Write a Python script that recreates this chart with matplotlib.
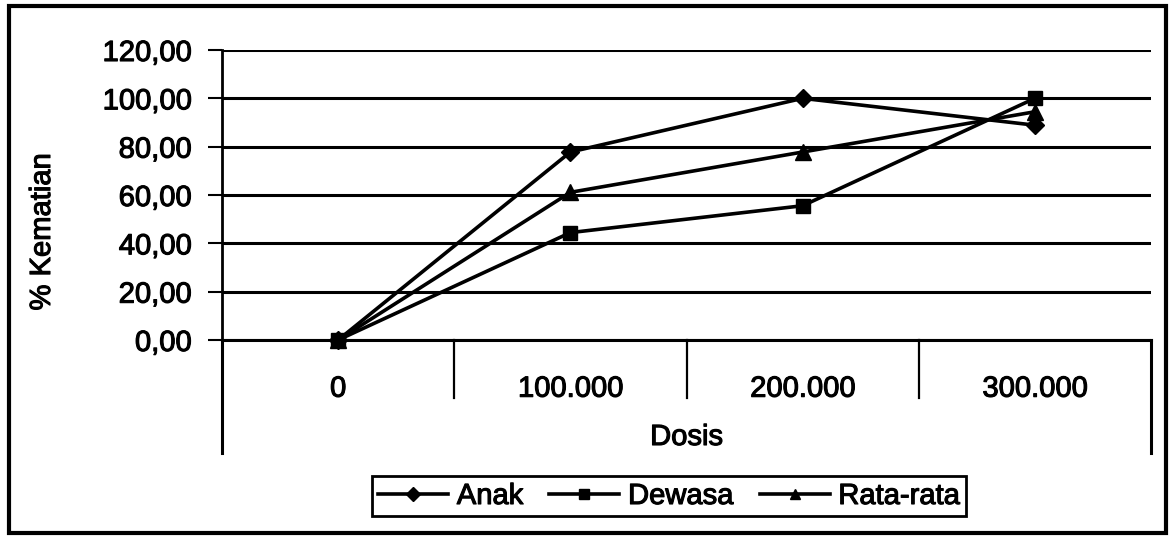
import numpy as np
import matplotlib.pyplot as plt
import matplotlib.patheffects as pe
from matplotlib.patches import Rectangle
from matplotlib.ticker import FuncFormatter

plt.rcParams['font.family'] = ['Liberation Sans', 'DejaVu Sans']

# Data
dosis = ['0', '100.000', '200.000', '300.000']
anak = [0.00, 77.78, 100.00, 88.89]
dewasa = [0.00, 44.44, 55.56, 100.00]
rata_rata = [0.00, 61.11, 77.78, 94.44]

W, H = 1169, 537
fig = plt.figure(figsize=(W / 100, H / 100), dpi=100)

# plot area in pixels: x 222..1151, y 50..340
x0, x1, y0, y1 = 222, 1151, 50, 340
ax = fig.add_axes([x0 / W, 1 - y1 / H, (x1 - x0) / W, (y1 - y0) / H])

x = np.arange(len(dosis))
ax.plot(x, anak, color='black', lw=2.6, marker='D', ms=9, label='Anak', clip_on=False, zorder=5)
ax.plot(x, dewasa, color='black', lw=2.6, marker='s', ms=10, label='Dewasa', clip_on=False, zorder=5)
ax.plot(x, rata_rata, color='black', lw=2.6, marker='^', ms=11, label='Rata-rata', clip_on=False, zorder=5)

ax.set_xlim(-0.5, len(dosis) - 0.5)
ax.set_ylim(0, 120)
ax.set_yticks(np.arange(0, 121, 20))
ax.yaxis.set_major_formatter(FuncFormatter(lambda v, p: f'{v:.2f}'.replace('.', ',')))
ax.grid(axis='y', color='black', lw=2.2)
ax.set_axisbelow(True)

for s in ['top', 'right']:
    ax.spines[s].set_visible(False)
ax.spines['left'].set_linewidth(2)
ax.spines['bottom'].set_linewidth(2.2)

ax.tick_params(axis='y', direction='out', length=10, width=1.5, pad=12, labelsize=21)
ax.set_xticks(x)
ax.set_xticklabels(dosis)
ax.tick_params(axis='x', length=0, pad=25, labelsize=21)

# thicken text a bit like the scanned original
thick = [pe.withStroke(linewidth=0.8, foreground='black')]
for t in ax.get_xticklabels() + ax.get_yticklabels():
    t.set_path_effects(thick)

# category separators below the axis
ah = y1 - y0
for xv in [0.5, 1.5, 2.5]:
    ax.plot([xv, xv], [0, -(398 - y1) / ah * 120], color='black', lw=1.6, clip_on=False)
for xv in [-0.5, len(dosis) - 0.5]:
    ax.plot([xv, xv], [0, -(453 - y1) / ah * 120], color='black', lw=2.2, clip_on=False)

ax.text(0.5, -(437 - y1) / ah, 'Dosis', transform=ax.transAxes, ha='center', va='center',
        fontsize=21, path_effects=thick)
fig.text(42 / W, 1 - 232 / H, '% Kematian', rotation=90, ha='center', va='center',
         fontsize=21, path_effects=thick)

leg = fig.legend(loc='center', bbox_to_anchor=((378 + 960) / 2 / W, 1 - 496 / H), ncol=3,
                 fancybox=False, edgecolor='black', fontsize=21, handlelength=2.4,
                 handletextpad=0.3, columnspacing=0.9, borderpad=0.2, framealpha=1)
leg.get_frame().set_linewidth(2)
for h in leg.legend_handles:
    h.set_markersize(7)
for t in leg.get_texts():
    t.set_path_effects(thick)

# outer border
fig.patches.append(Rectangle((9 / W, 4 / H), (1166 - 9) / W, (531 - 4) / H, transform=fig.transFigure,
                             fill=False, edgecolor='black', lw=3))

fig.savefig('out.png', dpi=100)
